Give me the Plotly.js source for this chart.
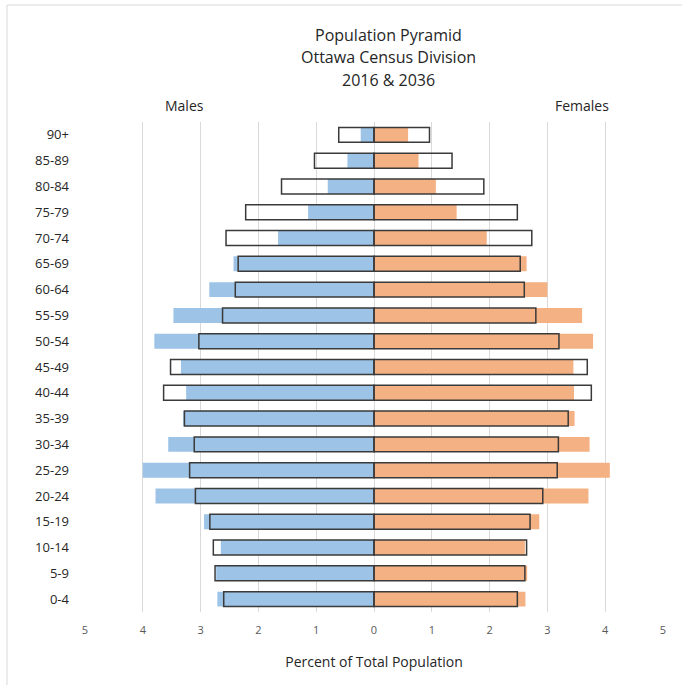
<!DOCTYPE html>
<html>
<head>
<meta charset="utf-8">
<script src="https://cdn.plot.ly/plotly-3.0.1.min.js"></script>
<style>html,body{margin:0;padding:0;background:#fff;}#chart{width:682px;height:685px;}</style>
</head>
<body>
<div id="chart"></div>
<script>
var ageGroups = ['0-4','5-9','10-14','15-19','20-24','25-29','30-34','35-39','40-44','45-49','50-54','55-59','60-64','65-69','70-74','75-79','80-84','85-89','90+'];
var males2016 = [2.71,2.73,2.65,2.94,3.78,4.00,3.56,3.30,3.25,3.34,3.80,3.47,2.85,2.43,1.66,1.14,0.80,0.46,0.23];
var males2036 = [2.60,2.75,2.78,2.84,3.09,3.19,3.11,3.28,3.64,3.52,3.03,2.62,2.40,2.35,2.56,2.22,1.60,1.03,0.61];
var females2016 = [2.62,2.65,2.61,2.86,3.71,4.08,3.73,3.47,3.46,3.45,3.79,3.60,3.00,2.64,1.95,1.43,1.07,0.77,0.59];
var females2036 = [2.48,2.61,2.64,2.70,2.92,3.17,3.19,3.36,3.76,3.69,3.20,2.80,2.60,2.53,2.73,2.48,1.90,1.35,0.96];
var tickValues = [-5,-4,-3,-2,-1,0,1,2,3,4,5];
var tickLabels = ['5','4','3','2','1','0','1','2','3','4','5'];

function neg(a){return a.map(function(v){return -v;});}

var outlineLine = {color:'#3a3a3a', width:1.5};
var traces = [
  {type:'bar', orientation:'h', name:'Males 2016', y:ageGroups, x:neg(males2016), width:0.58,
   marker:{color:'#9DC3E6', line:{width:0}}, hoverinfo:'skip'},
  {type:'bar', orientation:'h', name:'Females 2016', y:ageGroups, x:females2016, width:0.58,
   marker:{color:'#F4B183', line:{width:0}}, hoverinfo:'skip'},
  {type:'bar', orientation:'h', name:'Males 2036', y:ageGroups, x:neg(males2036), width:0.58,
   marker:{color:'rgba(0,0,0,0)', line:outlineLine}, hoverinfo:'skip'},
  {type:'bar', orientation:'h', name:'Females 2036', y:ageGroups, x:females2036, width:0.58,
   marker:{color:'rgba(0,0,0,0)', line:outlineLine}, hoverinfo:'skip'}
];

var fontFam = 'Open Sans, Noto Sans, sans-serif';
var titleColor = '#262626';
var layout = {
  width:682, height:685,
  margin:{l:85, r:19, t:122, b:73},
  paper_bgcolor:'#fff', plot_bgcolor:'#fff',
  barmode:'overlay',
  showlegend:false,
  font:{family:fontFam, color:'#595959', size:12},
  xaxis:{range:[-5,5], tickvals:tickValues, ticktext:tickLabels, showgrid:true, gridcolor:'#D9D9D9', gridwidth:1,
         zeroline:false, showline:false, ticks:'', ticklabelstandoff:10, fixedrange:true,
         tickfont:{size:11, color:'#595959'},
         title:{text:'Percent of Total Population', font:{size:14, color:titleColor}, standoff:21}},
  yaxis:{type:'category', categoryorder:'array', categoryarray:ageGroups, range:[-0.5,18.5],
         showgrid:false, zeroline:false, showline:false, ticks:'', ticklabelstandoff:15, fixedrange:true,
         tickfont:{size:13, color:titleColor}},
  shapes:[
    {type:'line', xref:'paper', yref:'paper', x0:-78/578, x1:1.1, y0:(685-5-73)/490, y1:(685-5-73)/490, line:{color:'#D9D9D9', width:1}},
    {type:'line', xref:'paper', yref:'paper', x0:-78/578, x1:-78/578, y0:-1, y1:(685-5-73)/490, line:{color:'#D9D9D9', width:1}}
  ],
  annotations:[
    {xref:'paper', yref:'paper', x:(388-85)/578, y:(685-73-35)/490, text:'Population Pyramid', showarrow:false, font:{size:16, color:titleColor}, xanchor:'center', yanchor:'middle'},
    {xref:'paper', yref:'paper', x:(388-85)/578, y:(685-73-57)/490, text:'Ottawa Census Division', showarrow:false, font:{size:16, color:titleColor}, xanchor:'center', yanchor:'middle'},
    {xref:'paper', yref:'paper', x:(388-85)/578, y:(685-73-80)/490, text:'2016 &amp; 2036', showarrow:false, font:{size:16, color:titleColor}, xanchor:'center', yanchor:'middle'},
    {xref:'paper', yref:'paper', x:(184.5-85)/578, y:(685-73-105)/490, text:'Males', showarrow:false, font:{size:14, color:titleColor}, xanchor:'center', yanchor:'middle'},
    {xref:'paper', yref:'paper', x:(582-85)/578, y:(685-73-105)/490, text:'Females', showarrow:false, font:{size:14, color:titleColor}, xanchor:'center', yanchor:'middle'}
  ]
};

Plotly.newPlot('chart', traces, layout, {displayModeBar:false, staticPlot:true});
</script>
</body>
</html>
